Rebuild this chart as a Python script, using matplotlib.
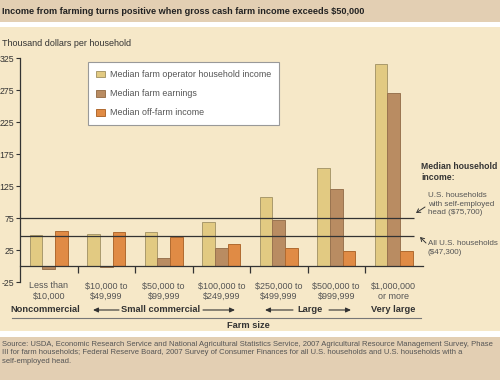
import matplotlib
matplotlib.use("Agg")
import matplotlib.pyplot as plt
from matplotlib.patches import Rectangle, FancyArrowPatch
from matplotlib.lines import Line2D

plt.rcParams['font.family'] = ['Liberation Sans', 'DejaVu Sans']

# ---------------- data ----------------
categories = ["Less than\n$10,000", "$10,000 to\n$49,999", "$50,000 to\n$99,999",
              "$100,000 to\n$249,999", "$250,000 to\n$499,999", "$500,000 to\n$999,999",
              "$1,000,000\nor more"]
operator_income = [49, 49.5, 53.5, 68, 108, 153.5, 315]
farm_earnings = [-4, -1, 12, 27.5, 72, 121, 271]
offfarm_income = [55, 53.5, 45, 34, 27.5, 24, 24]
series_names = ["Median farm operator household income", "Median farm earnings",
                "Median off-farm income"]
yticks = [-25, 25, 75, 125, 175, 225, 275, 325]
ref_selfemployed = 75.7
ref_all = 47.3

# ---------------- style ----------------
W, H = 500, 380
BANNER = "#e3cfb3"
PANEL = "#f6e8c8"
C_OP = "#e2ca82"
C_FE = "#b98c62"
C_OF = "#e08b45"
EDGES = ["#a99a6c", "#9a7450", "#b06a30"]
TXT = "#333333"
GRAY = "#555555"

fig = plt.figure(figsize=(W / 100, H / 100), dpi=100)
fig.patch.set_facecolor("white")


def fx(x):
    return x / W


def fy(y):
    return 1 - y / H


def rect(x0, y0, x1, y1, color):
    fig.patches.append(Rectangle((fx(x0), fy(y1)), fx(x1) - fx(x0), fy(y0) - fy(y1),
                                 transform=fig.transFigure, facecolor=color,
                                 edgecolor="none", zorder=-10))


rect(0, 0, W, 22, BANNER)
rect(0, 27, W, 331, PANEL)
rect(0, 337, W, H, BANNER)

# title
fig.text(fx(2), fy(12), "Income from farming turns positive when gross cash farm income exceeds $50,000",
         fontsize=6.6, fontweight="bold", color="#222222", va="center", ha="left")
fig.text(fx(2), fy(43), "Thousand dollars per household", fontsize=6.5, color=TXT,
         va="center", ha="left")

# axes
ax_left, ax_right = 20, 422.5
ax_top, ax_bot = 58, 282
ax = fig.add_axes([fx(ax_left), fy(ax_bot), fx(ax_right) - fx(ax_left), fy(ax_top) - fy(ax_bot)])
ax.set_facecolor("none")
ax.set_xlim(0, 7)
ax.set_ylim(-25, 325)
for s in ["top", "right"]:
    ax.spines[s].set_visible(False)
ax.spines["left"].set_color(TXT)
ax.spines["left"].set_linewidth(0.9)
ax.spines["bottom"].set_position(("data", 0))
ax.spines["bottom"].set_color(TXT)
ax.spines["bottom"].set_linewidth(0.9)
ax.set_yticks(yticks)
ax.set_yticklabels([str(v) for v in yticks])
ax.tick_params(axis="y", direction="out", length=3, width=0.8, color=TXT, pad=1,
               labelsize=6.3, labelcolor=TXT)
ax.set_xticks(list(range(1, 7)))
ax.set_xticklabels([])
ax.tick_params(axis="x", direction="out", length=5, width=0.9, color=TXT)

bw = 0.222
n = len(categories)
centers = [i + 0.5 for i in range(n)]
series = [operator_income, farm_earnings, offfarm_income]
colors = [C_OP, C_FE, C_OF]
for k, (vals, col) in enumerate(zip(series, colors)):
    xs = [c + (k - 1) * bw for c in centers]
    ax.bar(xs, vals, width=bw, color=col, edgecolor=EDGES[k], linewidth=0.7,
           label=series_names[k], zorder=2)

ax.hlines([ref_selfemployed, ref_all], 0, 6.86, color="#333333", linewidth=0.9, zorder=3)

# category labels
for c, lab in zip(centers, categories):
    ax.text(c, -24, lab, transform=ax.transData, ha="center", va="top", fontsize=6.5,
            color=GRAY, linespacing=1.25)

# legend
leg = ax.legend(loc="upper left", bbox_to_anchor=(fx(88), fy(62)), bbox_transform=fig.transFigure,
                fontsize=6.4, frameon=True, fancybox=False, edgecolor="#999999",
                facecolor="white", framealpha=1, handlelength=1.0, handleheight=0.8,
                labelspacing=1.15, borderpad=0.9, handletextpad=0.6, borderaxespad=0)
for t in leg.get_texts():
    t.set_color(GRAY)
leg.get_frame().set_linewidth(0.8)

# right annotations
fig.text(fx(421), fy(172), "Median household\nincome:", fontsize=6.2, fontweight="bold",
         color=TXT, va="center", ha="left", linespacing=1.15)
fig.text(fx(428), fy(204), "U.S. households\nwith self-employed\nhead ($75,700)", fontsize=5.8,
         color=GRAY, va="center", ha="left", linespacing=1.25)
fig.text(fx(428), fy(248), "All U.S. households\n($47,300)", fontsize=5.8,
         color=GRAY, va="center", ha="left", linespacing=1.25)
fig.add_artist(FancyArrowPatch((fx(425), fy(207)), (fx(416), fy(213)),
               transform=fig.transFigure, arrowstyle="->,head_length=2.5,head_width=1.5",
               color=TXT, linewidth=0.7, shrinkA=0, shrinkB=0))
fig.add_artist(FancyArrowPatch((fx(426), fy(243)), (fx(420), fy(237)),
               transform=fig.transFigure, arrowstyle="->,head_length=2.5,head_width=1.5",
               color=TXT, linewidth=0.7, shrinkA=0, shrinkB=0))

# farm-type group labels
gy = 310
fig.text(fx(45), fy(gy), "Noncommercial", fontsize=6.7, fontweight="bold", color=TXT,
         ha="center", va="center")
fig.text(fx(161), fy(gy), "Small commercial", fontsize=6.7, fontweight="bold", color=TXT,
         ha="center", va="center")
fig.text(fx(310), fy(gy), "Large", fontsize=6.7, fontweight="bold", color=TXT,
         ha="center", va="center")
fig.text(fx(393), fy(gy), "Very large", fontsize=6.7, fontweight="bold", color=TXT,
         ha="center", va="center")


def arrow(x0, x1):
    fig.add_artist(FancyArrowPatch((fx(x0), fy(gy)), (fx(x1), fy(gy)),
                   transform=fig.transFigure, arrowstyle="-|>,head_length=3,head_width=1.4",
                   color=TXT, linewidth=0.8, shrinkA=0, shrinkB=0))


arrow(119, 93)
arrow(203, 235)
arrow(293, 265)
arrow(329, 351)

fig.add_artist(Line2D([fx(12), fx(421)], [fy(318), fy(318)], transform=fig.transFigure,
                      color="#777777", linewidth=0.8))
fig.text(fx(248), fy(325), "Farm size", fontsize=6.7, fontweight="bold", color=TXT,
         ha="center", va="center")

# source
src = ("Source: USDA, Economic Research Service and National Agricultural Statistics Service, 2007 Agricultural Resource Management Survey, Phase\n"
       "III for farm households; Federal Reserve Board, 2007 Survey of Consumer Finances for all U.S. households and U.S. households with a\n"
       "self-employed head.")
fig.text(fx(2), fy(341), src, fontsize=5.5, color=GRAY, ha="left", va="top", linespacing=1.3)

fig.savefig("out.png", dpi=100)
